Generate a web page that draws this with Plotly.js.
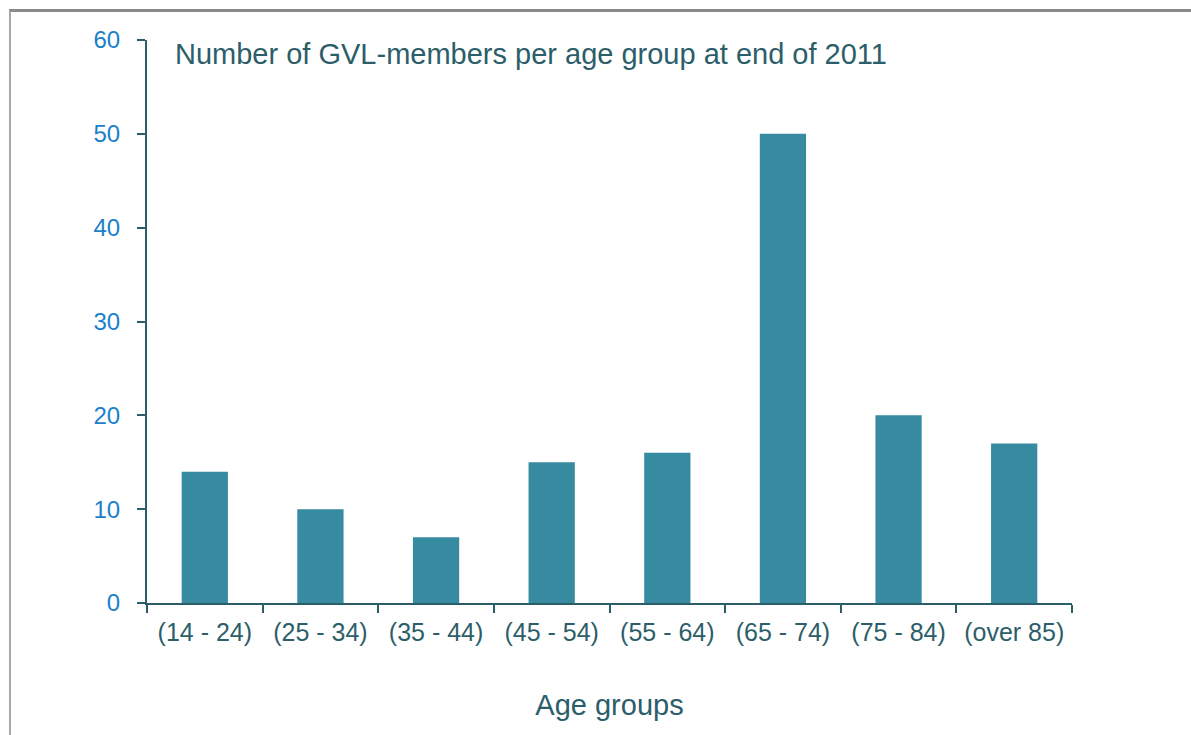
<!DOCTYPE html>
<html>
<head>
<meta charset="utf-8">
<script src="https://cdn.plot.ly/plotly-3.0.1.min.js"></script>
<style>
  html, body { margin: 0; padding: 0; background: #fff; }
  #wrap { position: relative; width: 1191px; height: 735px; }
  #chart { width: 1191px; height: 735px; }
  #frame { position: absolute; left: 9px; top: 9px; width: 1180px; height: 740px;
           border-top: 3px solid #8a8a8a; border-left: 2px solid #a8a8a8; border-right: 2px solid #a8a8a8;
           pointer-events: none; }
</style>
</head>
<body>
<div id="wrap">
  <div id="chart"></div>
  <div id="frame"></div>
</div>
<script>
const categories = ["(14 - 24)", "(25 - 34)", "(35 - 44)", "(45 - 54)", "(55 - 64)", "(65 - 74)", "(75 - 84)", "(over 85)"];
const members = [14, 10, 7, 15, 16, 50, 20, 17];
const yTicks = [0, 10, 20, 30, 40, 50, 60];

const dark = "#2c5e6a";
const trace = {
  type: "bar",
  x: categories,
  y: members,
  marker: { color: "#378ba0", line: { width: 0 } },
  hoverinfo: "x+y"
};

const layout = {
  width: 1191, height: 735,
  margin: { l: 147, r: 119, t: 40, b: 132, pad: 0 },
  paper_bgcolor: "#fff", plot_bgcolor: "#fff",
  font: { family: "Liberation Sans, Arial, sans-serif", color: dark },
  bargap: 0.6,
  showlegend: false,
  xaxis: {
    type: "category",
    showline: true, linecolor: dark, linewidth: 2,
    ticks: "outside", tickson: "boundaries", ticklen: 8, tickwidth: 2, tickcolor: dark,
    tickfont: { size: 25, color: dark },
    ticklabelstandoff: 6,
    showgrid: false, zeroline: false,
    title: { text: "Age groups", font: { size: 29, color: dark }, standoff: 50 }
  },
  yaxis: {
    range: [0, 60], tickvals: yTicks,
    showline: true, linecolor: dark, linewidth: 2,
    ticks: "outside", ticklen: 8, tickwidth: 2, tickcolor: dark,
    tickfont: { size: 24, color: "#1b7fcc" },
    ticklabelstandoff: 12,
    showgrid: false, zeroline: false
  },
  annotations: [{
    text: "Number of GVL-members per age group at end of 2011",
    xref: "paper", yref: "paper", x: 0.028, y: 0.975,
    xanchor: "left", yanchor: "middle", showarrow: false,
    font: { size: 29, color: dark }
  }]
};

Plotly.newPlot("chart", [trace], layout, { displayModeBar: false, staticPlot: true });
</script>
</body>
</html>
